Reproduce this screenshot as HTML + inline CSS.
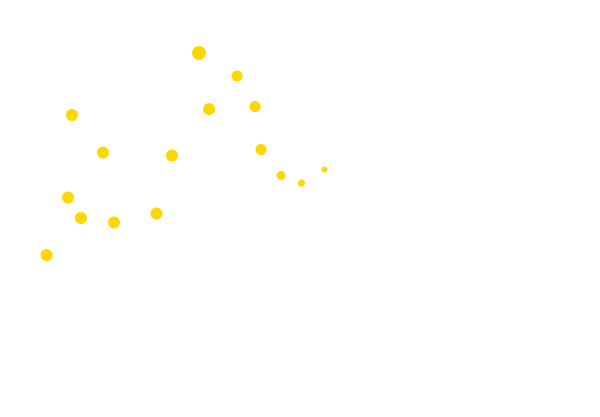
<!DOCTYPE html>
<html><head><meta charset="utf-8"><style>html,body{margin:0;padding:0;background:#fff;width:600px;height:417px;overflow:hidden}</style></head>
<body>
<svg width="600" height="417" viewBox="0 0 600 417" xmlns="http://www.w3.org/2000/svg">
<rect width="600" height="417" fill="#fff"/>
<g fill="#FFD700">
<circle cx="199" cy="53" r="7"/>
<circle cx="237" cy="76" r="5.5"/>
<circle cx="72" cy="115" r="6"/>
<circle cx="209" cy="109" r="6"/>
<circle cx="255" cy="106.5" r="5.5"/>
<circle cx="103" cy="152.5" r="6"/>
<circle cx="172" cy="155.5" r="6"/>
<circle cx="261" cy="149.5" r="5.5"/>
<circle cx="281" cy="175.5" r="4.5"/>
<circle cx="301.5" cy="183" r="3.5"/>
<circle cx="324.5" cy="169.5" r="3"/>
<circle cx="68" cy="197.5" r="6"/>
<circle cx="81" cy="218" r="6"/>
<circle cx="114" cy="222.5" r="6"/>
<circle cx="156.5" cy="213.5" r="6"/>
<circle cx="46.5" cy="255" r="6"/>
</g>
</svg>
</body></html>
